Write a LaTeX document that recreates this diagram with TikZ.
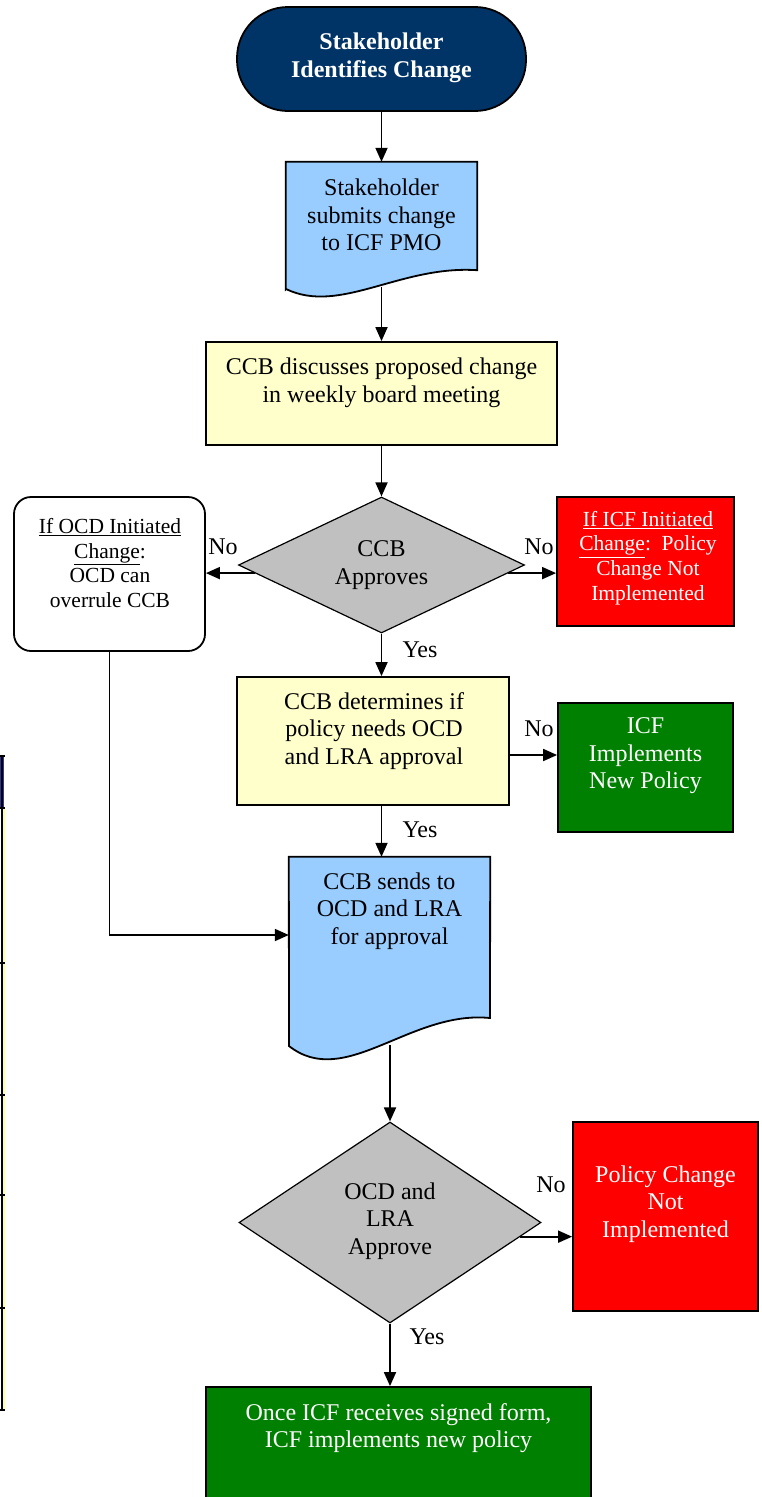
\documentclass[tikz,border=0pt]{standalone}
\usepackage{fontspec}
\setmainfont{Liberation Serif}
\usetikzlibrary{arrows.meta,shapes.geometric,calc}
\definecolor{navy}{HTML}{003366}
\definecolor{docblue}{HTML}{99CCFF}
\definecolor{paleyel}{HTML}{FFFFCC}
\definecolor{grayd}{HTML}{C0C0C0}
\definecolor{redb}{HTML}{FF0000}
\definecolor{greenb}{HTML}{008000}
\definecolor{tblue}{HTML}{333399}
\definecolor{tyel}{HTML}{FFFF99}
\begin{document}
\begin{tikzpicture}[x=1pt,y=-1pt,
  box/.style={draw=black,line width=1.8pt,inner sep=0pt,rectangle},
  anchorbox/.style={draw=none,inner sep=0pt,rectangle},
  diam/.style={diamond,draw=black,line width=1.2pt,fill=grayd,inner sep=0pt},
  lbl/.style={inner sep=0pt,font=\fontsize{24}{27.6}\selectfont},
  txt/.style={inner sep=0pt,align=center,font=\fontsize{24}{27.6}\selectfont},
  stxt/.style={inner sep=0pt,align=center,font=\fontsize{21.5}{24.7}\selectfont},
  arr/.style={line width=1.8pt,-{Triangle[length=14pt,width=12pt]}},
]
\useasboundingbox (0,0) rectangle (761,1497);
\clip (0,0) rectangle (761,1497);

% partial table at the left edge
\fill[tblue] (0,756) rectangle (4,808);
\draw[tyel,line width=1.5pt] (4.2,808) -- (4.2,1410);
\draw[black,line width=2pt] (2,756) -- (2,1410);
\foreach \yy in {756,808,963,1095,1195,1308,1410}
  \draw[black,line width=2pt] (0,\yy) -- (5,\yy);

% shapes
\node[box,fill=navy,rounded corners=51pt,minimum width=289pt,minimum height=104pt] (term) at (381.5,59) {};
\node[anchorbox,minimum width=191pt,minimum height=108pt] (doc1) at (381.5,216) {};
\draw[line width=1.8pt,fill=docblue] (doc1.south west) ++(0,19) -- (doc1.north west) -- (doc1.north east) -- (doc1.south east)
   .. controls (400,265) and (340,315) .. (286,289) -- cycle;
\node[box,fill=paleyel,minimum width=351pt,minimum height=103pt] (disc) at (381.5,393.5) {};
\node[diam,minimum width=286pt,minimum height=136pt] (d1) at (381.5,565) {};
\node[box,fill=white,rounded corners=17pt,minimum width=191pt,minimum height=154pt] (ocd) at (109.5,574) {};
\node[box,fill=redb,minimum width=177pt,minimum height=129pt] (red1) at (645.5,561.5) {};
\node[box,fill=paleyel,minimum width=272pt,minimum height=128pt] (det) at (373,741) {};
\node[box,fill=greenb,minimum width=175pt,minimum height=129pt] (grn1) at (645.5,767.5) {};
\node[anchorbox,minimum width=201pt,minimum height=156pt] (doc2) at (389.5,935) {};
\draw[line width=1.8pt,fill=docblue] (289,1046) -- (doc2.north west) -- (doc2.north east) -- (490,1018)
   .. controls (410,1010) and (345,1090) .. (289,1046) -- cycle;
\node[diam,minimum width=302pt,minimum height=201pt] (d2) at (390,1222.5) {};
\node[box,fill=redb,minimum width=185pt,minimum height=189pt] (red2) at (665.5,1216.5) {};
\node[box,fill=greenb,minimum width=385pt,minimum height=140pt] (grn2) at (398.5,1457) {};

% texts
\node[txt,text=white,font=\fontsize{24}{27.6}\selectfont\bfseries] (tterm) at (381.5,58) {Stakeholder\\Identifies Change};
\node[txt] (tdoc1) at (381.5,215) {Stakeholder\\submits change\\to ICF PMO};
\node[txt] (tdisc) at (381.5,383) {CCB discusses proposed change\\in weekly board meeting};
\node[txt] (td1) at (381.5,565) {CCB\\Approves};
\node[stxt] (tocd) at (110,563) {\underline{If OCD Initiated}\\\underline{Change}:\\OCD can\\overrule CCB};
\node[stxt,text=white] (tred1) at (648,558) {\underline{If ICF Initiated}\\\underline{Change}:\ \ Policy\\Change Not\\Implemented};
\node[txt] (tdet) at (374,731) {CCB determines if\\policy needs OCD\\and LRA approval};
\node[txt,text=white] (tgrn1) at (645.5,756) {ICF\\Implements\\New Policy};
\node[txt] (tdoc2) at (389.5,911) {CCB sends to\\OCD and LRA\\for approval};
\node[txt] (td2) at (390,1221) {OCD and\\LRA\\Approve};
\node[txt,text=white] (tred2) at (665.5,1204) {Policy Change\\Not\\Implemented};
\node[txt,text=white] (tgrn2) at (398.5,1428) {Once ICF receives signed form,\\ICF implements new policy};

% connectors
\draw[arr] (term) -- (doc1);
\coordinate (w1) at (381.5,287);
\draw[arr] (w1) -- (disc.north);
\draw[arr] (disc.south) -- (d1.north);
\coordinate (d1l) at ($(d1.west)!0.118!(d1.south)$);
\draw[arr] (d1l) -- (d1l -| ocd.east);
\coordinate (d1r) at ($(d1.east)!0.118!(d1.south)$);
\draw[arr] (d1r) -- (d1r -| red1.west);
\draw[arr] (d1.south) -- (d1.south |- det.north);
\coordinate (detr) at ([yshift=-14pt]det.east);
\draw[arr] (detr) -- (detr -| grn1.west);
\coordinate (dets) at (d1.south |- det.south);
\draw[arr] (dets) -- (dets |- doc2.north);
\draw[arr] (ocd.south) |- (doc2.west);
\coordinate (w2) at (390,1045);
\draw[arr] (w2) -- (d2.north);
\coordinate (d2r) at ($(d2.east)!0.14!(d2.south)$);
\draw[arr] (d2r) -- (d2r -| red2.west);
\draw[arr] (d2.south) -- (d2.south |- grn2.north);

% labels
\node[lbl] (noA) at (223,547) {No};
\node[lbl] (noB) at (539,547) {No};
\node[lbl] (yesA) at (420,650) {Yes};
\node[lbl] (noC) at (539,729) {No};
\node[lbl] (yesB) at (420,830) {Yes};
\node[lbl] (noD) at (551,1185) {No};
\node[lbl] (yesC) at (427,1337) {Yes};
\end{tikzpicture}
\end{document}
